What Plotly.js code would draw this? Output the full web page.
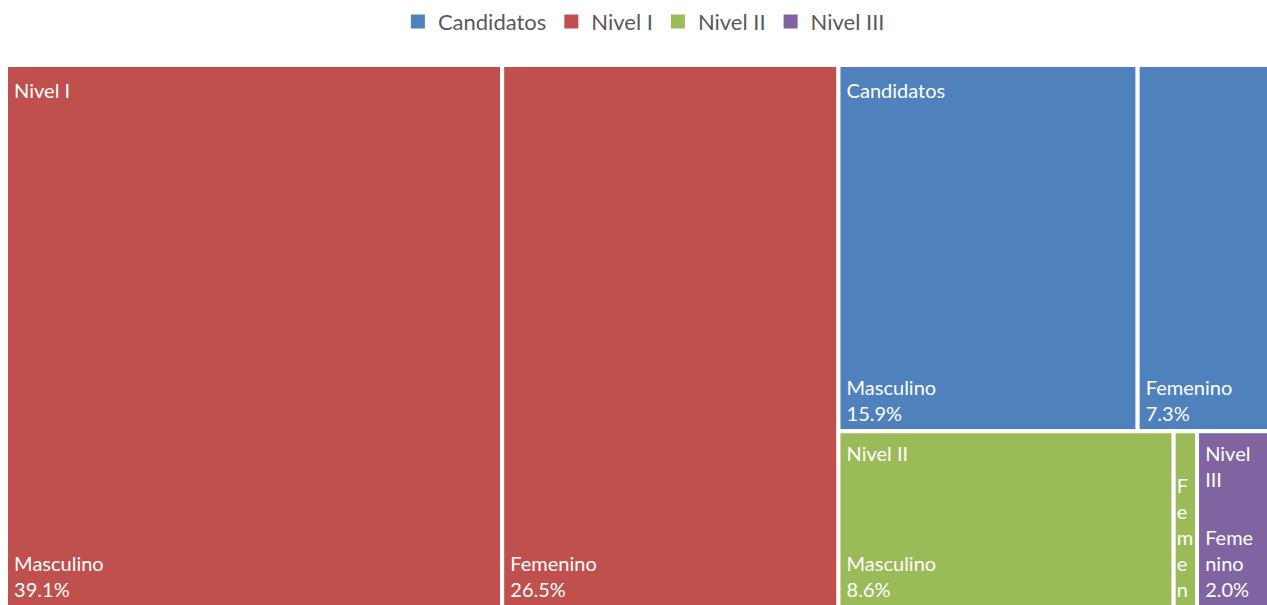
<!DOCTYPE html>
<html>
<head>
<meta charset="utf-8">
<script src="https://cdn.plot.ly/plotly-3.0.1.min.js"></script>
<style>html,body{margin:0;padding:0;background:#fff;overflow:hidden;}#chart{width:1275px;height:608px;}</style>
</head>
<body>
<div id="chart"></div>
<script>
// Data
const groups = ['Candidatos', 'Nivel I', 'Nivel II', 'Nivel III'];
const groupHeaders = ['Candidatos', 'Nivel I', 'Nivel II', 'Nivel|III'];
const groupColors = ['#4F81BD', '#C0504D', '#9BBB59', '#8064A2'];
const leafGroups = ['Nivel I', 'Nivel I', 'Candidatos', 'Candidatos', 'Nivel II', 'Nivel II', 'Nivel III'];
const leafLabels = ['Masculino', 'Femenino', 'Masculino', 'Femenino', 'Masculino', 'Femenino', 'Femenino'];
const leafDisplay = ['Masculino', 'Femenino', 'Masculino', 'Femenino', 'Masculino', 'F|e|m|e|n', 'Feme|nino'];
const leafValues = [39.1, 26.5, 15.9, 7.3, 8.6, 0.6, 2.0];
const showValue = [true, true, true, true, true, false, true];

const NB = '\u00A0';
const fmtLines = (s, indent) => s.split('|').map(t => (indent ? NB : '') + t).join('<br>');

const ids = [], labels = [], parents = [], values = [], colors = [], texts = [], headerTexts = [], isParent = [];
groups.forEach((g, i) => {
  ids.push(g); labels.push(g); parents.push(''); values.push(0);
  colors.push(groupColors[i]); texts.push(''); headerTexts.push(''); isParent.push(true);
});
const seen = {};
leafLabels.forEach((l, i) => {
  const g = leafGroups[i];
  ids.push(g + '/' + l); labels.push(l); parents.push(g); values.push(leafValues[i]);
  colors.push(groupColors[groups.indexOf(g)]); isParent.push(false);
  const indent = showValue[i];
  texts.push(fmtLines(leafDisplay[i] + (showValue[i] ? '|' + leafValues[i].toFixed(1) + '%' : ''), indent));
  if (!seen[g]) { headerTexts.push(fmtLines(groupHeaders[groups.indexOf(g)], true)); seen[g] = true; }
  else headerTexts.push('');
});

const textColors = isParent.map(p => p ? 'rgba(0,0,0,0)' : '#ffffff');
const font = {family: 'Lato, "Open Sans", sans-serif', size: 20, color: textColors};
const clear = ids.map(() => 'rgba(0,0,0,0)');
const common = {
  type: 'treemap', ids: ids, labels: labels, parents: parents, values: values,
  branchvalues: 'remainder', texttemplate: '%{text}',
  tiling: {packing: 'squarify', pad: 0}, pathbar: {visible: false},
  sort: true, showlegend: false, domain: {x: [0, 1], y: [0, 1]}
};

// colored tiles
const treemap = Object.assign({}, common, {
  text: ids.map(() => ''), textinfo: 'none', texttemplate: '', hoverinfo: 'label+value',
  textfont: {family: font.family, size: 20, color: clear},
  marker: {colors: colors, line: {color: '#ffffff', width: 4}, pad: {t: 0, l: 0, r: 0, b: 0}}
});
// group labels (top left)
const headerLayer = Object.assign({}, common, {
  text: headerTexts, textposition: 'top left', textfont: font, hoverinfo: 'skip',
  marker: {colors: clear, line: {color: 'rgba(0,0,0,0)', width: 4}, pad: {t: 5, l: 0, r: 0, b: 0}}
});
// category + value labels (bottom left)
const valueLayer = Object.assign({}, common, {
  text: texts, textposition: 'bottom left', textfont: font, hoverinfo: 'skip',
  marker: {colors: clear, line: {color: 'rgba(0,0,0,0)', width: 4}, pad: {t: 0, l: 0, r: 0, b: 2}}
});

const legendTraces = groups.map((g, i) => ({
  type: 'scatter', mode: 'markers', x: [null], y: [null], name: g,
  marker: {symbol: 'square', size: 14, color: groupColors[i]},
  hoverinfo: 'skip', showlegend: true
}));

const layout = {
  width: 1275, height: 608,
  margin: {l: 6, r: 0, t: 65, b: 0},
  paper_bgcolor: '#ffffff', plot_bgcolor: '#ffffff',
  xaxis: {visible: false}, yaxis: {visible: false},
  showlegend: true,
  legend: {orientation: 'h', xref: 'container', x: 0.505, xanchor: 'center',
           yref: 'container', y: 0.999, yanchor: 'top',
           font: {family: 'Lato, "Open Sans", sans-serif', size: 22, color: '#595959'},
           itemwidth: 30, traceorder: 'normal', bgcolor: 'rgba(0,0,0,0)'},
  font: {family: 'Lato, "Open Sans", sans-serif'}
};

Plotly.newPlot('chart', [treemap, headerLayer, valueLayer].concat(legendTraces), layout, {displayModeBar: false, staticPlot: true});
</script>
</body>
</html>
